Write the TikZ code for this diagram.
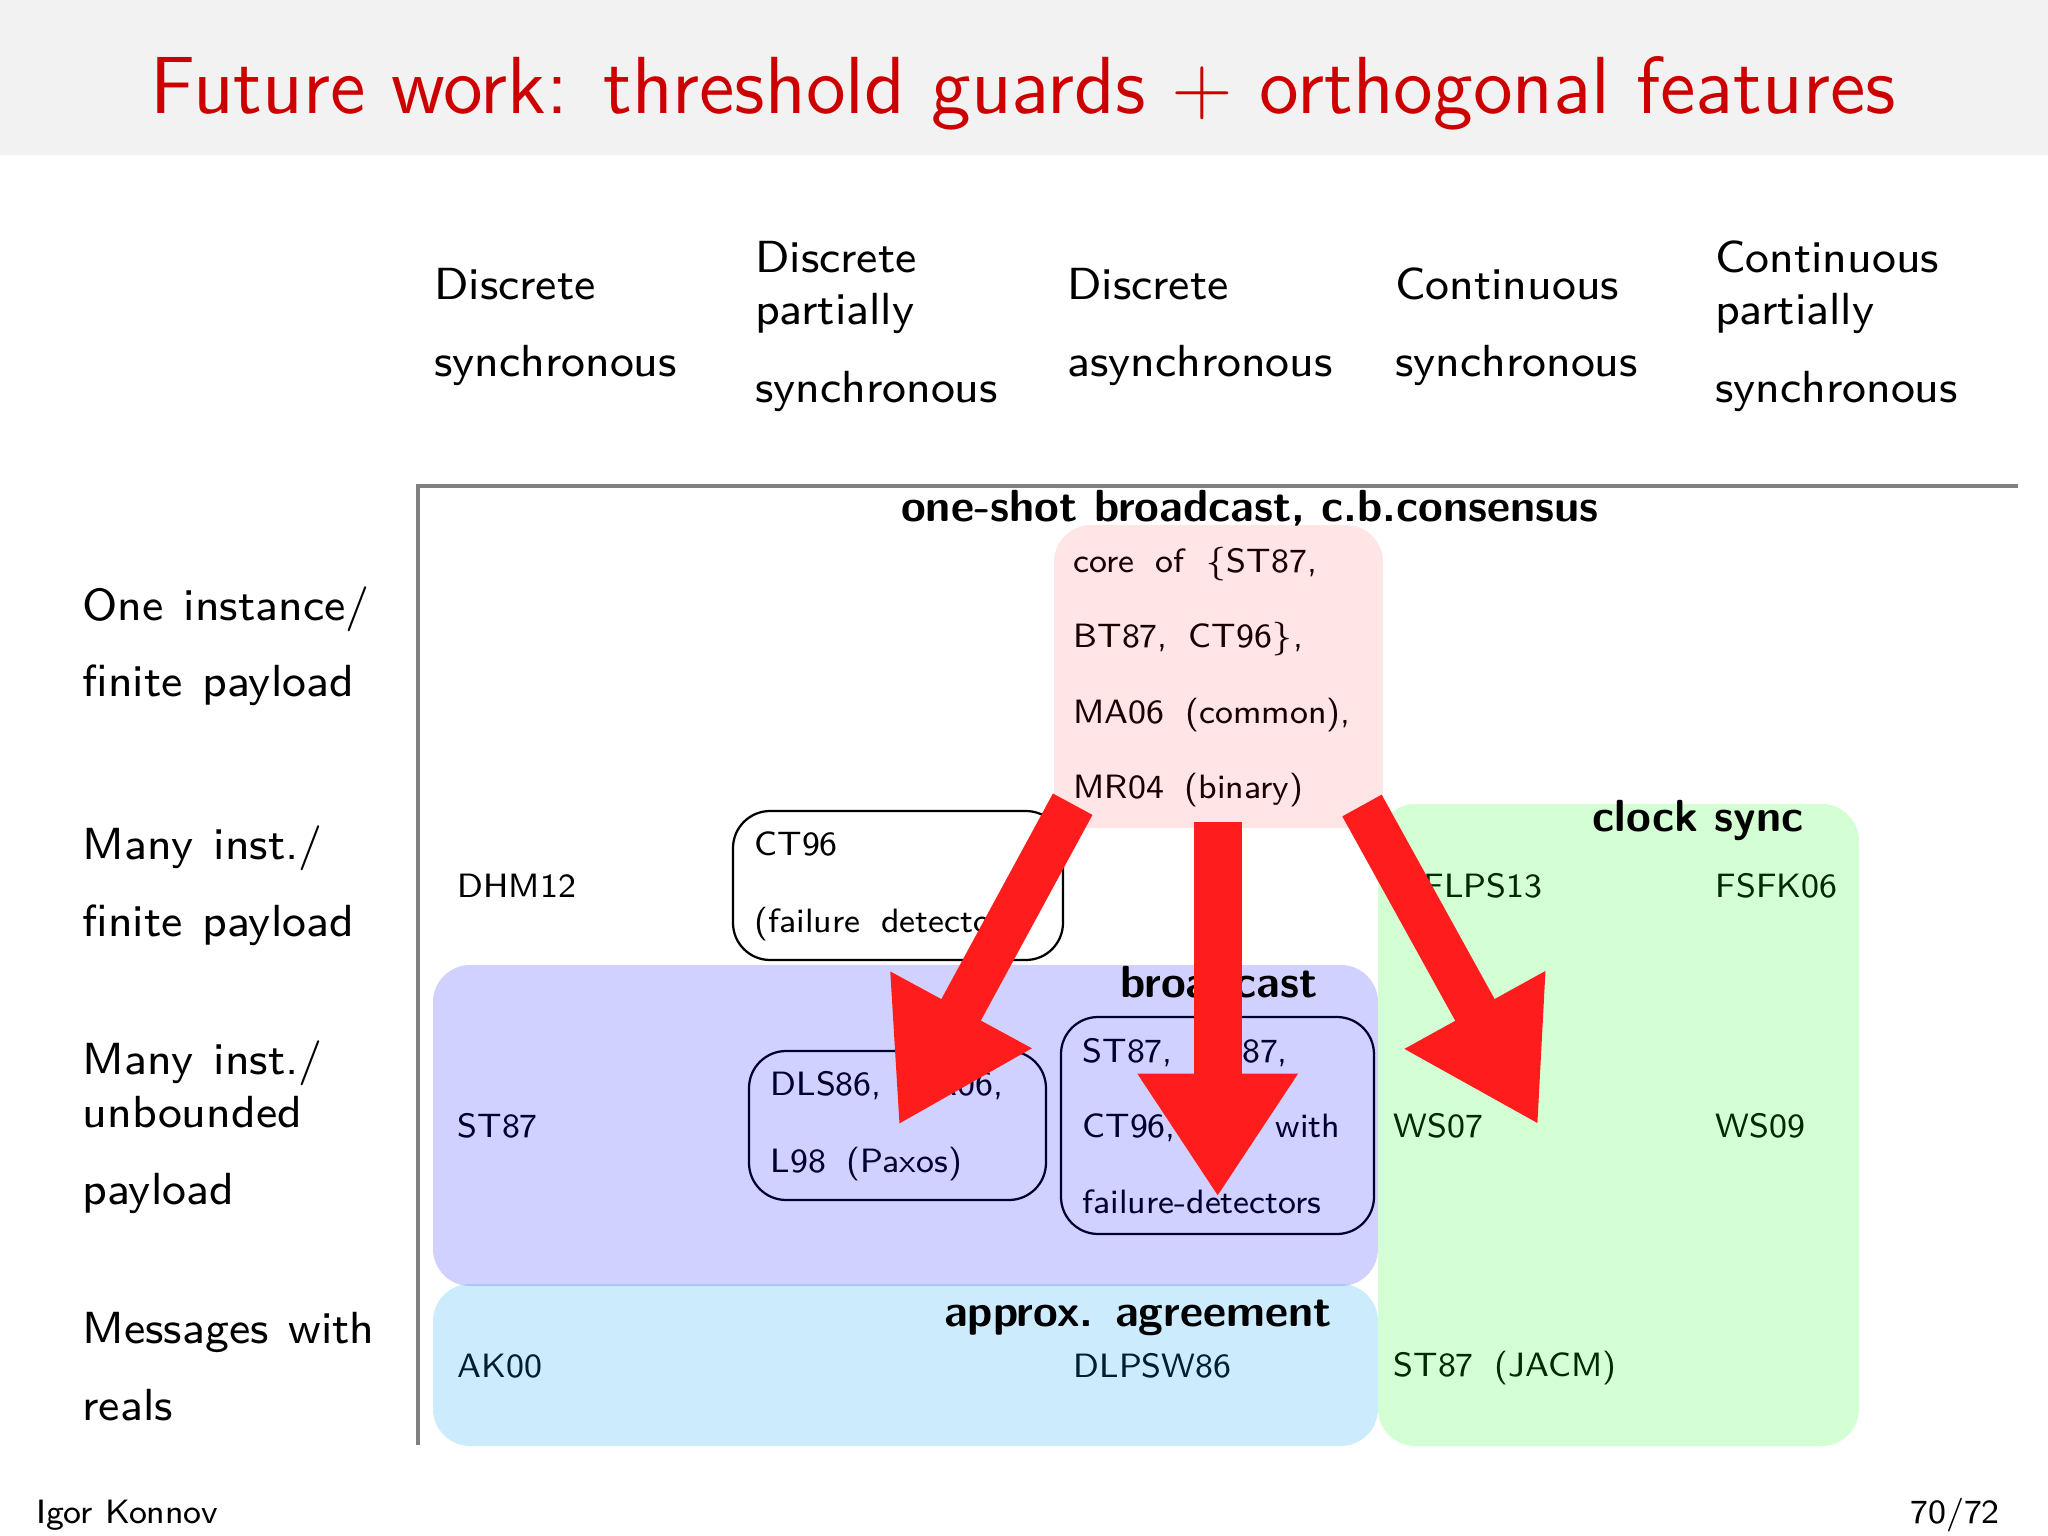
\documentclass[tikz,border=0pt]{standalone}
\usetikzlibrary{arrows.meta,fit}
\definecolor{titlered}{RGB}{204,0,0}
\definecolor{arrowred}{RGB}{255,28,28}
\definecolor{axisgray}{RGB}{128,128,128}
\definecolor{titlebg}{RGB}{242,242,242}
\definecolor{cyanbase}{RGB}{0,160,245}
\newcommand\cellfont{\fontsize{6}{7.2}\selectfont\sffamily\spaceskip=\fontdimen2\font\advance\spaceskip by 1.6pt\relax}
\newcommand\labfont{\fontsize{8}{9.6}\selectfont\sffamily\spaceskip=\fontdimen2\font\advance\spaceskip by 0.7pt\relax}
\begin{document}
\begin{tikzpicture}[x=0.17783pt,y=-0.17783pt,
  lab/.style={anchor=base west,inner sep=0pt,font=\labfont},
  cell/.style={anchor=base west,inner sep=0pt,font=\cellfont},
  blab/.style={anchor=base,inner sep=0pt,font=\fontsize{8}{9.6}\selectfont\sffamily\bfseries},
  region/.style={inner sep=0pt,rounded corners=6.6pt,draw=none},
  cbox/.style={inner sep=0pt,rounded corners=6.6pt,draw=black,line width=0.4pt},
  axisline/.style={draw=axisgray,line width=0.71pt},
  diagarrow/.style={draw=arrowred,line width=8pt,-{Triangle[width=26.9pt,length=23.3pt]}},
  vertarrow/.style={draw=arrowred,line width=8.5pt,-{Triangle[width=27pt,length=21.9pt]}},
  foot/.style={inner sep=0pt,font=\fontsize{6}{7.2}\selectfont\sffamily}
]
\useasboundingbox (0,0) rectangle (2048,1536);
% title bar
\fill[titlebg] (0,0) rectangle (2048,155);
\node[anchor=base,inner sep=0pt,font=\fontsize{14.4}{17}\selectfont\sffamily,text=titlered] (title) at (1023,113) {Future work: threshold guards $+$ orthogonal features};
% footer
\node[foot,anchor=base west] (author) at (35,1523) {Igor Konnov};
\node[foot,anchor=base east] (page) at (2001,1523) {70/72};
% axes
\coordinate (axtr) at (2018,486);
\coordinate (axo) at (418,486);
\coordinate (axbl) at (418,1445);
\draw[axisline] (axtr) -- (axo) -- (axbl);
% column headers
\node[lab] (c1a) at (433,299) {Discrete};
\node[lab] (c1b) at (433,376) {synchronous};
\node[lab] (c2a) at (754,272) {Discrete};
\node[lab] (c2b) at (754,325) {partially};
\node[lab] (c2c) at (754,402) {synchronous};
\node[lab] (c3a) at (1066,299) {Discrete};
\node[lab] (c3b) at (1066,376) {asynchronous};
\node[lab] (c4a) at (1394,299) {Continuous};
\node[lab] (c4b) at (1394,376) {synchronous};
\node[lab] (c5a) at (1714,272) {Continuous};
\node[lab] (c5b) at (1714,325) {partially};
\node[lab] (c5c) at (1714,402) {synchronous};
% row labels
\node[lab] (r1a) at (81.5,620) {One instance/};
\node[lab] (r1b) at (81.5,696) {finite payload};
\node[lab] (r2a) at (81.5,859) {Many inst./};
\node[lab] (r2b) at (81.5,936) {finite payload};
\node[lab] (r3a) at (81.5,1074) {Many inst./};
\node[lab] (r3b) at (81.5,1127) {unbounded};
\node[lab] (r3c) at (81.5,1204) {payload};
\node[lab] (r4a) at (81.5,1343) {Messages with};
\node[lab] (r4b) at (81.5,1420) {reals};
% cell texts
\node[cell] (core1) at (1072.5,572) {core of $\{$ST87,};
\node[cell] (core2) at (1072.5,647) {BT87, CT96$\}$,};
\node[cell] (core3) at (1072.5,723) {MA06 (common),};
\node[cell] (core4) at (1072.5,798) {MR04 (binary)};
\node[cell] (dhm) at (456.5,897) {DHM12};
\node[cell] (ct96a) at (753.5,855) {CT96};
\node[cell] (ct96b) at (753.5,932) {(failure detectors)};
\node[cbox,fit={(733,811)(1063,960)}] (ct96box) {};
\node[cell] (st87) at (456.5,1137) {ST87};
\node[cell] (dls1) at (769.5,1095) {DLS86, MA06,};
\node[cell] (dls2) at (769.5,1172) {L98 (Paxos)};
\node[cbox,fit={(749,1051)(1046,1200)}] (dlsbox) {};
\node[cell] (stb1) at (1081.5,1062) {ST87, BT87,};
\node[cell] (stb2) at (1081.5,1137) {\makebox[45.8pt][l]{CT96,\hfill with}};
\node[cell] (stb3) at (1081.5,1213) {failure-detectors};
\node[cbox,fit={(1061,1017)(1374,1234)}] (stbox) {};
\node[cell] (flps) at (1422.5,897) {FLPS13};
\node[cell] (fsfk) at (1714.5,897) {FSFK06};
\node[cell] (ws07) at (1392.5,1137) {WS07};
\node[cell] (ws09) at (1714.5,1137) {WS09};
\node[cell] (jacm) at (1392.5,1376) {ST87 (JACM)};
\node[cell] (ak00) at (456.5,1377) {AK00};
\node[cell] (dlpsw) at (1072.5,1377) {DLPSW86};
% translucent regions
\node[region,fill=red,fill opacity=0.1,fit={(1054,525)(1383,828)}] (core) {};
\node[region,fill=blue,fill opacity=0.18,fit={(433,965)(1378,1286)}] (bcast) {};
\node[region,fill=cyanbase,fill opacity=0.2,fit={(433,1284)(1378,1446)}] (approx) {};
\node[region,fill=green,fill opacity=0.17,fit={(1378,804)(1859,1446)}] (clock) {};
% region labels
\node[blab] (oneshotlab) at (1250,521) {one-shot broadcast, c.b.consensus};
\node[blab] (bcastlab) at (1219,997) {broadcast};
\node[blab] (approxlab) at (1138,1326) {approx. agreement};
\node[blab] (clocklab) at (1698,831) {clock sync};
% arrows
\coordinate (a1s) at (1072.7,804.2);
\coordinate (a1t) at (898.6,1125);
\coordinate (a2s) at (1217.7,821.7);
\coordinate (a2t) at (1217.7,1196.7);
\coordinate (a3s) at (1362,805.5);
\coordinate (a3t) at (1538.3,1124.6);
\draw[diagarrow] (a1s) -- (a1t);
\draw[vertarrow] (a2s) -- (a2t);
\draw[diagarrow] (a3s) -- (a3t);
\end{tikzpicture}
\end{document}
